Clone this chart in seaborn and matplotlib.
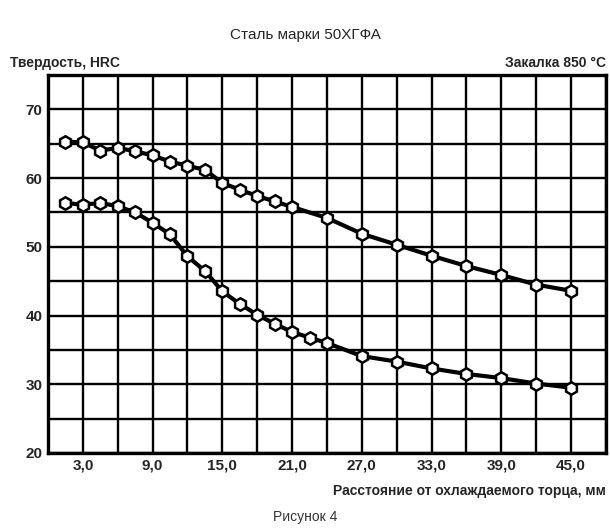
import numpy as np
import pandas as pd
import matplotlib
matplotlib.use("Agg")
import matplotlib.pyplot as plt
import seaborn as sns

# Distance from quenched end, mm
dist_upper = [1.5, 3, 4.5, 6, 7.5, 9, 10.5, 12, 13.5, 15, 16.5, 18, 19.5, 21,
              24, 27, 30, 33, 36, 39, 42, 45]
hrc_upper = [65.3, 65.2, 64.0, 64.4, 63.9, 63.3, 62.4, 61.8, 61.2, 59.3, 58.3,
             57.4, 56.6, 55.8, 54.2, 51.9, 50.3, 48.7, 47.2, 45.9, 44.5, 43.6]

dist_lower = [1.5, 3, 4.5, 6, 7.5, 9, 10.5, 12, 13.5, 15, 16.5, 18, 19.5, 21,
              22.5, 24, 27, 30, 33, 36, 39, 42, 45]
hrc_lower = [56.4, 56.1, 56.4, 55.9, 55.0, 53.5, 51.8, 48.6, 46.5, 43.5, 41.7,
             40.1, 38.8, 37.6, 36.8, 36.0, 34.1, 33.3, 32.3, 31.5, 30.9, 30.1, 29.5]

x_ticks = [3, 9, 15, 21, 27, 33, 39, 45]
x_ticklabels = ["3,0", "9,0", "15,0", "21,0", "27,0", "33,0", "39,0", "45,0"]
y_ticks = [20, 30, 40, 50, 60, 70]

sns.set_style("white")
plt.rcParams['font.family'] = ['Liberation Sans', 'DejaVu Sans']

fig = plt.figure(figsize=(6.1, 5.32), dpi=100)
ax = fig.add_axes([0.0787, 0.1485, 0.9147, 0.7105])

# grid first, so curves sit on top
for gx in np.arange(0, 49, 3):
    ax.axvline(gx, color='black', linewidth=1.7, zorder=1)
for gy in np.arange(20, 76, 5):
    ax.axhline(gy, color='black', linewidth=1.7, zorder=1)

for xs, ys in [(dist_upper, hrc_upper), (dist_lower, hrc_lower)]:
    df = pd.DataFrame({'x': xs, 'y': ys})
    sns.lineplot(data=df, x='x', y='y', ax=ax, color='black', linewidth=3,
                 marker='h', markersize=9, markerfacecolor='white',
                 markeredgecolor='black', markeredgewidth=1.8, zorder=3)

ax.set_xlim(0, 48)
ax.set_ylim(20, 75)
ax.set_xticks(x_ticks)
ax.set_xticklabels(x_ticklabels, fontweight='bold', fontsize=11)
ax.set_yticks(y_ticks)
ax.set_yticklabels([str(v) for v in y_ticks], fontweight='bold', fontsize=11)
ax.tick_params(length=0, pad=4)
ax.set_xlabel('')
ax.set_ylabel('')

for sp in ax.spines.values():
    sp.set_visible(True)
    sp.set_color('black')
    sp.set_linewidth(2.4)

fig.text(0.5, 0.935, "Сталь марки 50ХГФА", ha='center', va='center', fontsize=11)
fig.text(0.016, 0.882, "Твердость, HRC", ha='left', va='center',
         fontsize=10, fontweight='bold')
fig.text(0.993, 0.882, "Закалка 850 °С", ha='right', va='center',
         fontsize=10, fontweight='bold')
fig.text(0.993, 0.078, "Расстояние от охлаждаемого торца, мм", ha='right',
         va='center', fontsize=10, fontweight='bold')
fig.text(0.5, 0.028, "Рисунок 4", ha='center', va='center', fontsize=10,
         color='#333333')

fig.savefig("out.png", dpi=100)
